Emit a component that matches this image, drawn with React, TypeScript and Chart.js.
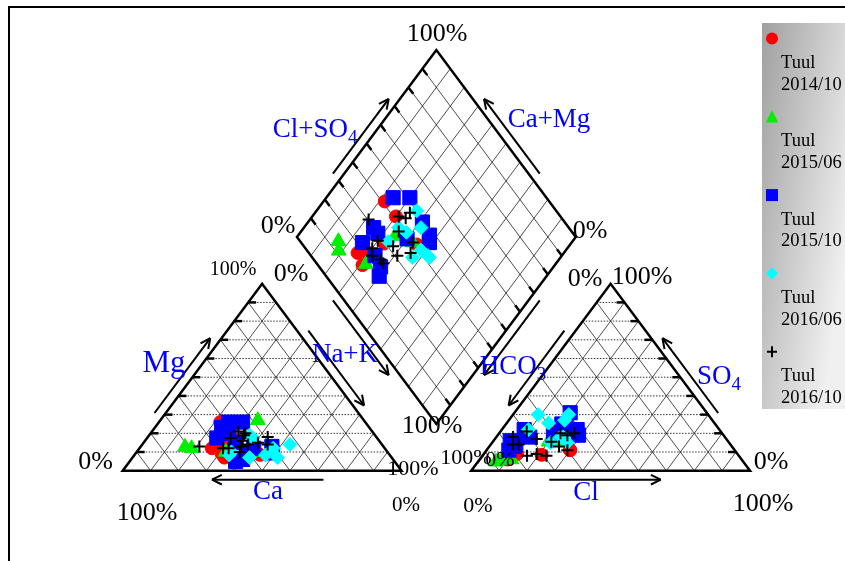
import React, { useEffect, useRef } from "react";
import { Chart, registerables } from "chart.js";

Chart.register(...registerables);

// ---- Data: milliequivalent percentages per sample ----
// Cations: Mg and Na+K (Ca is the remainder); anions: SO4 and Cl (HCO3 is the remainder)
const SERIES_NAMES = ["Tuul 2014/10", "Tuul 2015/06", "Tuul 2015/10", "Tuul 2016/06", "Tuul 2016/10"];

const mg_1410 = [26, 12, 7, 8.5, 18, 14, 9];
const na_1410 = [22, 26, 33, 45, 30, 29, 31];
const so4_1410 = [11, 7.5, 8.5, 11, 21, 9, 6];
const cl_1410 = [30, 10, 21, 30, 20, 12, 10];

const mg_1506 = [12.7, 12, 27, 10, 10];
const na_1506 = [16, 18.7, 35, 32, 43];
const so4_1506 = [5.7, 4.8, 15.5, 6, 16];
const cl_1506 = [8, 6.5, 20, 11.5, 24];

const mg_1510 = [23, 26, 17.5, 26, 5, 6, 10, 13, 9.5, 20, 12, 15];
const na_1510 = [24, 30, 25, 25, 38, 40, 40, 47, 49, 28, 41, 33];
const so4_1510 = [25, 31, 16, 18, 13, 11, 19, 19, 24, 22, 22, 14];
const cl_1510 = [20, 20, 6, 12, 9, 8, 20, 29, 22, 8, 27, 9];

const mg_1606 = [14, 7, 8.4, 17.5, 10, 8.4, 7, 19, 12];
const na_1606 = [53, 52, 47, 38, 34, 34, 42, 36, 48];
const so4_1606 = [18, 15, 15, 25.5, 30, 22, 27, 30, 18];
const cl_1606 = [24, 27, 21, 15, 9, 9.5, 20, 20, 23];

const mg_1610 = [13, 12, 17.5, 21, 16, 20, 13, 14, 15, 18, 14, 10, 19, 12];
const na_1610 = [21, 30, 30, 31, 35, 34, 36, 38, 41, 43, 45, 37, 34, 32];
const so4_1610 = [21, 18, 9, 20, 13, 19, 8, 14, 8, 11, 15.5, 17, 20, 14];
const cl_1610 = [9.4, 6, 19, 22, 25, 25, 16, 10, 23, 29, 21, 15, 27, 8];

// ---- Geometry of the Piper diagram (unit-side triangles) ----
const H = Math.sqrt(3) / 2;
const GAP = 0.25;
const LA = [0, 0], LB = [1, 0], LC = [0.5, H];
const RA = [1 + GAP, 0], RB = [2 + GAP, 0], RC = [1.5 + GAP, H];
const DB = [1 + GAP / 2, GAP * H], DL = [0.5 + GAP / 2, (1 + GAP) * H];
const DR = [1.5 + GAP / 2, (1 + GAP) * H], DT = [1 + GAP / 2, (2 + GAP) * H];

const lerp = (a: number[], b: number[], t: number) => [a[0] + (b[0] - a[0]) * t, a[1] + (b[1] - a[1]) * t];

function piperPoints(mg: number[], na: number[], so4: number[], cl: number[]) {
  const pts: { x: number; y: number }[] = [];
  for (let i = 0; i < mg.length; i++) {
    const m = mg[i] / 100, n = na[i] / 100, s = so4[i] / 100, c = cl[i] / 100;
    pts.push({ x: n + m / 2, y: m * H });
    pts.push({ x: 1 + GAP + c + s / 2, y: s * H });
    pts.push({ x: 0.5 + GAP / 2 + (n + c + s) / 2, y: (1 + GAP + c + s - n) * H });
  }
  return pts;
}

const SERIES = [
  { pts: piperPoints(mg_1410, na_1410, so4_1410, cl_1410), color: "#ff0000", style: "circle", r: 6.5, bw: 1, order: 5 },
  { pts: piperPoints(mg_1506, na_1506, so4_1506, cl_1506), color: "#00ee00", style: "triangle", r: 8.5, bw: 1, order: 4 },
  { pts: piperPoints(mg_1510, na_1510, so4_1510, cl_1510), color: "#0000ff", style: "rect", r: 10, bw: 1, order: 3 },
  { pts: piperPoints(mg_1606, na_1606, so4_1606, cl_1606), color: "#00ffff", style: "rectRot", r: 7, bw: 1, order: 2 },
  { pts: piperPoints(mg_1610, na_1610, so4_1610, cl_1610), color: "#000000", style: "cross", r: 6, bw: 2, order: 1 },
];

const X_MIN = -0.4401, X_MAX = 2.5907, Y_MIN = -0.4182, Y_MAX = 2.1802;

const piperPlugin = {
  id: "piperFrame",
  beforeDatasetsDraw(chart: any) {
    const ctx = chart.ctx as CanvasRenderingContext2D;
    const xs = chart.scales.x, ys = chart.scales.y;
    const P = (p: number[]) => ({ x: xs.getPixelForValue(p[0]), y: ys.getPixelForValue(p[1]) });
    const seg = (a: number[], b: number[]) => {
      const p = P(a), q = P(b);
      ctx.beginPath(); ctx.moveTo(p.x, p.y); ctx.lineTo(q.x, q.y); ctx.stroke();
    };
    ctx.save();
    ctx.lineCap = "butt";
    ctx.strokeStyle = "#000";
    // thin solid grid
    ctx.lineWidth = 0.7;
    for (let k = 1; k <= 9; k++) {
      const f = k / 10;
      for (const [A, B, C] of [[LA, LB, LC], [RA, RB, RC]]) {
        seg(lerp(A, B, f), lerp(A, C, f));
        seg(lerp(A, B, f), lerp(B, C, 1 - f));
      }
      seg(lerp(DB, DL, f), lerp(DR, DT, f));
      seg(lerp(DB, DR, f), lerp(DL, DT, f));
    }
    // dotted horizontal grid in triangles
    ctx.setLineDash([1.5, 1.5]);
    ctx.lineWidth = 1;
    ctx.strokeStyle = "#333";
    for (let k = 1; k <= 9; k++) {
      const f = k / 10;
      for (const [A, B, C] of [[LA, LB, LC], [RA, RB, RC]]) seg(lerp(A, C, f), lerp(B, C, f));
    }
    ctx.setLineDash([]);
    ctx.strokeStyle = "#000";
    // outlines
    ctx.lineWidth = 2.5;
    ctx.lineJoin = "miter";
    for (const poly of [[LA, LB, LC], [RA, RB, RC], [DB, DR, DT, DL]]) {
      ctx.beginPath();
      poly.forEach((v, i) => { const p = P(v); if (i) ctx.lineTo(p.x, p.y); else ctx.moveTo(p.x, p.y); });
      ctx.closePath();
      ctx.stroke();
    }
    // ticks
    const TL = 8;
    const tickToward = (a: number[], b: number[]) => {
      const p = P(a), q = P(b);
      const dx = q.x - p.x, dy = q.y - p.y, len = Math.hypot(dx, dy);
      ctx.beginPath(); ctx.moveTo(p.x, p.y); ctx.lineTo(p.x + (dx / len) * TL, p.y + (dy / len) * TL); ctx.stroke();
    };
    for (let k = 1; k <= 9; k++) {
      const f = k / 10;
      tickToward(lerp(LA, LC, f), lerp(LB, LC, f));
      tickToward(lerp(RB, RC, f), lerp(RA, RC, f));
      tickToward(lerp(DL, DT, f), lerp(DB, DR, f));
      tickToward(lerp(DB, DR, f), lerp(DL, DT, f));
    }
    // arrows
    ctx.lineWidth = 2;
    const arrow = (tail: number[], head: number[], centre: number[], t0: number, t1: number) => {
      const a = P(tail), b = P(head), c = P(centre);
      const dx = b.x - a.x, dy = b.y - a.y, len = Math.hypot(dx, dy);
      const ux = dx / len, uy = dy / len;
      let nx = -uy, ny = ux;
      const mx = (a.x + b.x) / 2, my = (a.y + b.y) / 2;
      if (nx * (c.x - mx) + ny * (c.y - my) > 0) { nx = -nx; ny = -ny; }
      const off = 9;
      const sx = a.x + dx * t0 + nx * off, sy = a.y + dy * t0 + ny * off;
      const ex = a.x + dx * t1 + nx * off, ey = a.y + dy * t1 + ny * off;
      ctx.beginPath(); ctx.moveTo(sx, sy); ctx.lineTo(ex, ey); ctx.stroke();
      const hl = 11, ang = 0.45;
      ctx.beginPath();
      for (const s of [-1, 1]) {
        const ca = Math.cos(ang * s), sa = Math.sin(ang * s);
        const rx = ux * ca - uy * sa, ry = ux * sa + uy * ca;
        ctx.moveTo(ex, ey); ctx.lineTo(ex - rx * hl, ey - ry * hl);
      }
      ctx.stroke();
    };
    const lc = [0.5, H / 3], rc = [1.5 + GAP, H / 3], dc = [1 + GAP / 2, (1 + GAP) * H];
    arrow(LA, LC, lc, 0.28, 0.68);
    arrow(LB, LA, lc, 0.28, 0.68);
    arrow(LC, LB, lc, 0.28, 0.68);
    arrow(RC, RA, rc, 0.28, 0.68);
    arrow(RA, RB, rc, 0.28, 0.68);
    arrow(RB, RC, rc, 0.28, 0.68);
    arrow(DL, DT, dc, 0.31, 0.71);
    arrow(DR, DT, dc, 0.31, 0.71);
    arrow(DL, DB, dc, 0.31, 0.71);
    arrow(DR, DB, dc, 0.31, 0.71);

    // legend box
    const g = ctx.createLinearGradient(762, 23, 880, 41.5);
    g.addColorStop(0, "#a0a0a0");
    g.addColorStop(1, "#f0f0f0");
    ctx.fillStyle = g;
    ctx.fillRect(762, 23, 90, 386);
    const lx = 772;
    SERIES.forEach((s, i) => {
      const ly = 38.5 + 78.3 * i;
      ctx.fillStyle = s.color;
      ctx.strokeStyle = s.color;
      ctx.beginPath();
      if (s.style === "circle") { ctx.arc(lx, ly, 6, 0, Math.PI * 2); ctx.fill(); }
      else if (s.style === "triangle") { ctx.moveTo(lx, ly - 6.5); ctx.lineTo(lx + 6.2, ly + 5.8); ctx.lineTo(lx - 6.2, ly + 5.8); ctx.closePath(); ctx.fill(); }
      else if (s.style === "rect") { ctx.rect(lx - 6, ly - 6, 12, 12); ctx.fill(); }
      else if (s.style === "rectRot") { ctx.moveTo(lx, ly - 6.2); ctx.lineTo(lx + 6.2, ly); ctx.lineTo(lx, ly + 6.2); ctx.lineTo(lx - 6.2, ly); ctx.closePath(); ctx.fill(); }
      else { ctx.lineWidth = 2; ctx.moveTo(lx - 5, ly); ctx.lineTo(lx + 5, ly); ctx.moveTo(lx, ly - 5.5); ctx.lineTo(lx, ly + 5.5); ctx.stroke(); }
    });
    ctx.restore();
  },
};

const SERIF = '"Liberation Serif", "Times New Roman", serif';

function Lbl(props: { x: number; y: number; size?: number; color?: string; children: React.ReactNode }) {
  return (
    <div
      style={{
        position: "absolute",
        left: props.x,
        top: props.y,
        transform: "translate(-50%, -50%)",
        fontFamily: SERIF,
        fontSize: props.size ?? 26,
        lineHeight: 1,
        color: props.color ?? "#000",
        whiteSpace: "nowrap",
      }}
    >
      {props.children}
    </div>
  );
}

const Sub = (p: { children: React.ReactNode }) => (
  <span style={{ fontSize: "0.7em", position: "relative", top: "0.3em" }}>{p.children}</span>
);

export default function App() {
  const ref = useRef<HTMLCanvasElement | null>(null);
  useEffect(() => {
    if (!ref.current) return;
    const chart = new Chart(ref.current, {
      type: "scatter",
      data: {
        datasets: SERIES.map((s, i) => ({
          label: SERIES_NAMES[i],
          data: s.pts,
          pointStyle: s.style as any,
          pointRadius: s.r,
          pointHoverRadius: s.r,
          pointBackgroundColor: s.color,
          pointBorderColor: s.color,
          pointBorderWidth: s.bw,
          showLine: false,
          order: s.order,
        })),
      },
      options: {
        responsive: false,
        animation: false,
        devicePixelRatio: 1,
        events: [],
        layout: { padding: 0, autoPadding: false },
        plugins: { legend: { display: false }, tooltip: { enabled: false } },
        scales: {
          x: { type: "linear", min: X_MIN, max: X_MAX, display: false },
          y: { type: "linear", min: Y_MIN, max: Y_MAX, display: false },
        },
      },
      plugins: [piperPlugin],
    });
    return () => chart.destroy();
  }, []);

  const blue = "#0000ff";
  const legendLines = SERIES_NAMES.map((n) => n.split(" "));
  return (
    <div style={{ position: "absolute", left: 0, top: 0, width: 845, height: 561, overflow: "hidden", background: "#fff" }}>
      <div style={{ position: "absolute", left: 8, top: 6, width: 900, height: 700, borderLeft: "2px solid #000", borderTop: "2px solid #000" }} />
      <canvas ref={ref} width={845} height={561} style={{ position: "absolute", left: 0, top: 0, width: 845, height: 561 }} />
      {/* percentage labels */}
      <Lbl x={437} y={33}>100%</Lbl>
      <Lbl x={278} y={225}>0%</Lbl>
      <Lbl x={590} y={230}>0%</Lbl>
      <Lbl x={233} y={268} size={20}>100%</Lbl>
      <Lbl x={291} y={273}>0%</Lbl>
      <Lbl x={95.5} y={461}>0%</Lbl>
      <Lbl x={147} y={512}>100%</Lbl>
      <Lbl x={406} y={504} size={21}>0%</Lbl>
      <Lbl x={413} y={468} size={22}>100%</Lbl>
      <Lbl x={432} y={425}>100%</Lbl>
      <Lbl x={466} y={457} size={22}>100%</Lbl>
      <Lbl x={500} y={459} size={22}>0%</Lbl>
      <Lbl x={585} y={278}>0%</Lbl>
      <Lbl x={642} y={276}>100%</Lbl>
      <Lbl x={771} y={461}>0%</Lbl>
      <Lbl x={763} y={503}>100%</Lbl>
      <Lbl x={478} y={505} size={22}>0%</Lbl>
      {/* component labels */}
      <Lbl x={315} y={128} size={27} color={blue}>Cl+SO<Sub>4</Sub></Lbl>
      <Lbl x={549} y={118} size={27} color={blue}>Ca+Mg</Lbl>
      <Lbl x={164} y={361} size={31} color={blue}>Mg</Lbl>
      <Lbl x={345} y={353} size={27} color={blue}>Na+K</Lbl>
      <Lbl x={268} y={490} size={27} color={blue}>Ca</Lbl>
      <Lbl x={513} y={365} size={27} color={blue}>HCO<Sub>3</Sub></Lbl>
      <Lbl x={719} y={375} size={27} color={blue}>SO<Sub>4</Sub></Lbl>
      <Lbl x={586} y={491} size={27} color={blue}>Cl</Lbl>
      {/* legend text */}
      {legendLines.map((l, i) => (
        <div key={i} style={{ position: "absolute", left: 781, top: 52 + 78.3 * i, fontFamily: SERIF, fontSize: 18.5, lineHeight: "21.7px", color: "#000", whiteSpace: "nowrap" }}>
          <div>{l[0]}</div>
          <div>{l[1]}</div>
        </div>
      ))}
    </div>
  );
}
